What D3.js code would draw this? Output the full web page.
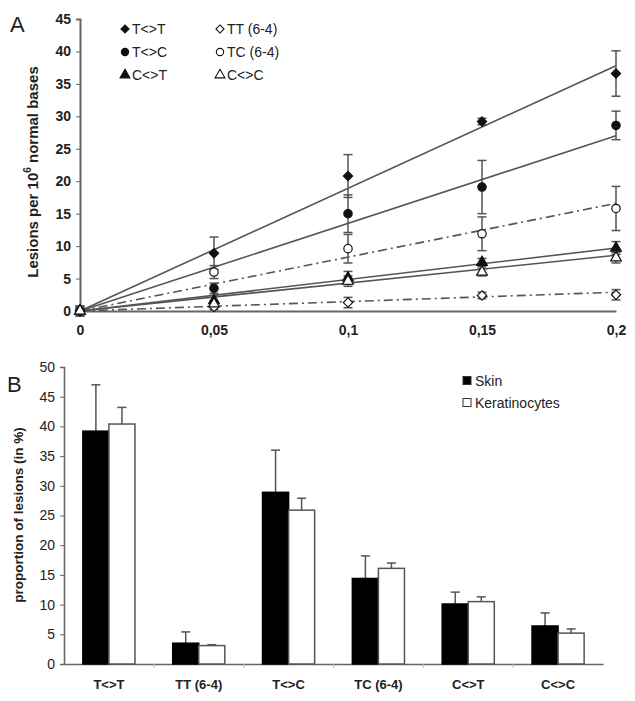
<!DOCTYPE html>
<html><head><meta charset="utf-8">
<script src="https://cdn.jsdelivr.net/npm/d3@7"></script>
<style>body{margin:0;background:#fff;}svg{display:block;font-family:"Liberation Sans",Arial,sans-serif;}</style>
</head><body>
<svg id="c" width="635" height="701"></svg>
<script>
// ---------- Panel A data ----------
const doses = [0, 0.05, 0.1, 0.15, 0.2];
const doseLabels = ["0", "0,05", "0,1", "0,15", "0,2"];
const yTicksA = [0, 5, 10, 15, 20, 25, 30, 35, 40, 45];
const seriesNames = ["T<>T", "TT (6-4)", "T<>C", "TC (6-4)", "C<>T", "C<>C"];
const valTT = [0, 8.9, 20.8, 29.2, 36.6];
const errTT = [0.8, 2.5, 3.3, 0.5, 3.5];
const valTT64 = [0, 0.6, 1.3, 2.4, 2.5];
const errTT64 = [0.6, 0.4, 0.8, 0.5, 0.8];
const valTC = [0, 3.5, 15.0, 19.1, 28.6];
const errTC = [0.8, 0.8, 2.9, 4.1, 2.2];
const valTC64 = [0, 6.0, 9.6, 11.9, 15.8];
const errTC64 = [0.4, 1.0, 2.2, 2.6, 3.4];
const valCT = [0, 1.6, 5.1, 7.5, 9.7];
const errCT = [0.4, 0.8, 1.0, 0.6, 1.0];
const valCC = [0, 1.1, 4.6, 6.0, 8.2];
const errCC = [0.4, 0.5, 0.8, 0.6, 0.8];
// regression line values read at dose 0 and dose 0.2
const trendStart = [0, 0, 0, 0, 0, 0];
const trendEnd = [37.8, 2.9, 27.0, 16.6, 9.7, 8.6];

// ---------- Panel B data ----------
const categories = ["T<>T", "TT (6-4)", "T<>C", "TC (6-4)", "C<>T", "C<>C"];
const groups = ["Skin", "Keratinocytes"];
const skinVals = [39.2, 3.5, 28.9, 14.4, 10.1, 6.4];
const skinErr = [7.8, 1.9, 7.1, 3.8, 2.0, 2.2];
const keratVals = [40.4, 3.1, 25.9, 16.1, 10.5, 5.2];
const keratErr = [2.8, 0.15, 2.0, 0.9, 0.8, 0.7];
const yTicksB = [0, 5, 10, 15, 20, 25, 30, 35, 40, 45, 50];

const svg = d3.select("#c");
const axisCol = "#666", lineCol = "#555", textCol = "#222";

// ================= Panel A =================
const xA = d3.scaleLinear().domain([0, 0.2]).range([80, 616]);
const yA = d3.scaleLinear().domain([0, 45]).range([311, 19]);
const gA = svg.append("g");

const styles = [
  {shape: d3.symbolDiamond2, fill: "#111", dash: null},
  {shape: d3.symbolDiamond2, fill: "#fff", dash: "9,4,2,4"},
  {shape: d3.symbolCircle, fill: "#111", dash: null},
  {shape: d3.symbolCircle, fill: "#fff", dash: "9,4,2,4"},
  {shape: d3.symbolTriangle, fill: "#111", dash: null},
  {shape: d3.symbolTriangle, fill: "#fff", dash: null}
];
const seriesVals = [valTT, valTT64, valTC, valTC64, valCT, valCC];
const seriesErrs = [errTT, errTT64, errTC, errTC64, errCT, errCC];

// axes
const yAxisA = d3.axisLeft(yA).tickValues(yTicksA).tickSize(4).tickPadding(5);
const ya = gA.append("g").attr("transform", "translate(80,0)").call(yAxisA);
ya.select(".domain").attr("stroke", axisCol).attr("stroke-width", 2);
ya.selectAll(".tick line").attr("stroke", axisCol);
ya.selectAll("text").attr("fill", textCol).attr("font-size", 14).attr("font-weight", "bold")
  .attr("font-family", "Liberation Sans, Arial, sans-serif");

const xAxisA = d3.axisBottom(xA).tickValues(doses).tickFormat((d, i) => doseLabels[i]).tickSize(0).tickPadding(14);
const xa = gA.append("g").attr("transform", "translate(0,311)").call(xAxisA);
xa.select(".domain").attr("stroke", axisCol).attr("stroke-width", 2);
xa.selectAll("text").attr("fill", textCol).attr("font-size", 14).attr("font-weight", "bold")
  .attr("font-family", "Liberation Sans, Arial, sans-serif");

// trend lines
seriesNames.forEach((n, i) => {
  gA.append("line")
    .attr("x1", xA(0)).attr("y1", yA(trendStart[i]))
    .attr("x2", xA(0.2)).attr("y2", yA(trendEnd[i]))
    .attr("stroke", lineCol).attr("stroke-width", 1.6)
    .attr("stroke-dasharray", styles[i].dash);
});

// error bars
seriesNames.forEach((n, i) => {
  doses.forEach((d, j) => {
    const v = seriesVals[i][j], e = seriesErrs[i][j];
    const x = xA(d);
    gA.append("line").attr("x1", x).attr("x2", x).attr("y1", yA(v - e)).attr("y2", yA(v + e))
      .attr("stroke", lineCol).attr("stroke-width", 1.5);
    [v - e, v + e].forEach(t => gA.append("line").attr("x1", x - 4.5).attr("x2", x + 4.5)
      .attr("y1", yA(t)).attr("y2", yA(t)).attr("stroke", lineCol).attr("stroke-width", 1.5));
  });
});

// markers
const symSize = [55, 55, 55, 55, 50, 50];
seriesNames.forEach((n, i) => {
  gA.selectAll(null).data(doses).enter().append("path")
    .attr("d", d3.symbol().type(styles[i].shape).size(symSize[i]))
    .attr("transform", (d, j) => `translate(${xA(d)},${yA(seriesVals[i][j])})`)
    .attr("fill", styles[i].fill).attr("stroke", "#111").attr("stroke-width", 1.2);
});

// legend A
const legPos = [[125, 29], [220, 29], [125, 52], [220, 52], [125, 75], [220, 75]];
seriesNames.forEach((n, i) => {
  const [lx, ly] = legPos[i];
  gA.append("path").attr("d", d3.symbol().type(styles[i].shape).size(42))
    .attr("transform", `translate(${lx},${ly})`)
    .attr("fill", styles[i].fill).attr("stroke", "#111").attr("stroke-width", 1.1);
  gA.append("text").attr("x", lx + 7).attr("y", ly + 5).text(n)
    .attr("font-size", 14).attr("fill", textCol);
});

// y title A
const tA = gA.append("text").attr("transform", "translate(38,172) rotate(-90)")
  .attr("text-anchor", "middle").attr("font-size", 15).attr("font-weight", "bold").attr("fill", textCol);
tA.append("tspan").text("Lesions per 10");
tA.append("tspan").text("6").attr("font-size", 10).attr("dy", -7);
tA.append("tspan").text(" normal bases").attr("dy", 7);

gA.append("text").attr("x", 10).attr("y", 32).text("A").attr("font-size", 22).attr("fill", textCol);

// ================= Panel B =================
const gB = svg.append("g");
const x0 = d3.scaleBand().domain(categories).range([64, 603]).paddingInner(0.42).paddingOuter(0.21);
const x1 = d3.scaleBand().domain(groups).range([0, x0.bandwidth()]).padding(0);
const yB = d3.scaleLinear().domain([0, 50]).range([664, 367]);

const yAxisB = d3.axisLeft(yB).tickValues(yTicksB).tickSize(4).tickPadding(5);
const yb = gB.append("g").attr("transform", "translate(64,0)").call(yAxisB);
yb.select(".domain").attr("stroke", axisCol).attr("stroke-width", 1.6);
yb.selectAll(".tick line").attr("stroke", axisCol);
yb.selectAll("text").attr("fill", textCol).attr("font-size", 14)
  .attr("font-family", "Liberation Sans, Arial, sans-serif");

const xAxisB = d3.axisBottom(x0).tickSize(0).tickPadding(16);
const xb = gB.append("g").attr("transform", "translate(0,664)").call(xAxisB);
xb.select(".domain").attr("stroke", axisCol).attr("stroke-width", 1.6);
xb.selectAll("text").attr("fill", textCol).attr("font-size", 13).attr("font-weight", "bold")
  .attr("font-family", "Liberation Sans, Arial, sans-serif");
// small separator ticks between categories
categories.forEach((c, i) => {
  if (i === 0) return;
  const bx = x0(c) - x0.step() * x0.paddingInner() / 2 - 0;
  gB.append("line").attr("x1", bx).attr("x2", bx).attr("y1", 664).attr("y2", 668)
    .attr("stroke", "#bbb").attr("stroke-width", 1);
});

const barData = [skinVals, keratVals];
const barErr = [skinErr, keratErr];
groups.forEach((g, gi) => {
  categories.forEach((c, ci) => {
    const v = barData[gi][ci], e = barErr[gi][ci];
    const bx = x0(c) + x1(g), bw = x1.bandwidth();
    const cx = bx + bw / 2;
    gB.append("line").attr("x1", cx).attr("x2", cx).attr("y1", yB(v)).attr("y2", yB(v + e))
      .attr("stroke", lineCol).attr("stroke-width", 1.5);
    gB.append("line").attr("x1", cx - 4.5).attr("x2", cx + 4.5).attr("y1", yB(v + e)).attr("y2", yB(v + e))
      .attr("stroke", lineCol).attr("stroke-width", 1.5);
    gB.append("rect").attr("x", bx).attr("y", yB(v)).attr("width", bw).attr("height", yB(0) - yB(v))
      .attr("fill", gi === 0 ? "#000" : "#fff")
      .attr("stroke", gi === 0 ? "#000" : "#555").attr("stroke-width", 1.5);
  });
});

// legend B
groups.forEach((g, gi) => {
  const ly = 381 + gi * 22;
  gB.append("rect").attr("x", 463).attr("y", ly - 4.5).attr("width", 8).attr("height", 8)
    .attr("fill", gi === 0 ? "#000" : "#fff").attr("stroke", "#333").attr("stroke-width", 1);
  gB.append("text").attr("x", 475).attr("y", ly + 5).text(g).attr("font-size", 14).attr("fill", textCol);
});

gB.append("text").attr("transform", "translate(23,515) rotate(-90)").attr("text-anchor", "middle")
  .attr("font-size", 13.5).attr("font-weight", "bold").attr("fill", textCol).text("proportion of lesions (in %)");

gB.append("text").attr("x", 7).attr("y", 392).text("B").attr("font-size", 22).attr("fill", textCol);
</script>
</body></html>
